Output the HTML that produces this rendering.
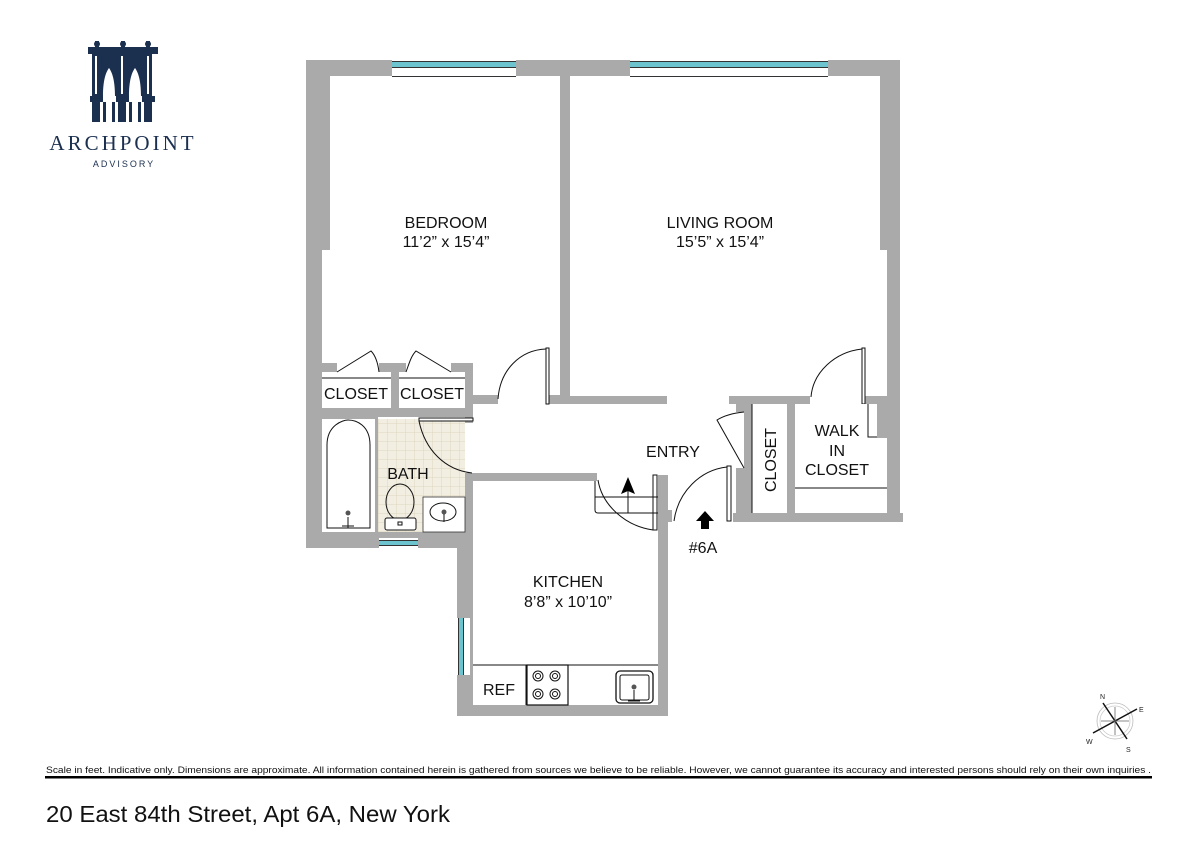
<!DOCTYPE html>
<html><head><meta charset="utf-8"><style>
html,body{margin:0;padding:0;background:#fff;}
body{width:1200px;height:849px;overflow:hidden;position:relative;font-family:"Liberation Sans",Arial,sans-serif;}
</style></head><body>
<svg width="1200" height="849" viewBox="0 0 1200 849" xmlns="http://www.w3.org/2000/svg" style="position:absolute;left:0;top:0">
<!-- Logo -->
<g fill="#1b2f4f">
  <rect x="88" y="47" width="70" height="7"/>
  <circle cx="97" cy="44" r="3"/><rect x="95" y="41" width="4" height="7"/>
  <circle cx="123" cy="44" r="3"/><rect x="121" y="41" width="4" height="7"/>
  <circle cx="148" cy="44" r="3"/><rect x="146" y="41" width="4" height="7"/>
  <rect x="92" y="54" width="8" height="68"/>
  <rect x="118" y="54" width="8" height="68"/>
  <rect x="144" y="54" width="8" height="68"/>
  <rect x="90" y="96" width="13" height="6"/>
  <rect x="116" y="96" width="13" height="6"/>
  <rect x="142" y="96" width="13" height="6"/>
  <path d="M100 54 H118 V96 H115 C115 80 112 72 109 68 C106 72 103 80 103 96 H100Z"/>
  <path d="M126 54 H144 V96 H141 C141 80 138 72 135 68 C132 72 129 80 129 96 H126Z"/>
  <rect x="103" y="102" width="3" height="20"/><rect x="112" y="102" width="3" height="20"/>
  <rect x="129" y="102" width="3" height="20"/><rect x="138" y="102" width="3" height="20"/>
</g>
<g fill="#fff"><rect x="95" y="56" width="2" height="38"/><rect x="121" y="56" width="2" height="38"/><rect x="147" y="56" width="2" height="38"/></g>
<text x="123" y="150" text-anchor="middle" font-family="Liberation Serif,serif" font-size="21" letter-spacing="3" fill="#1b2f4f">ARCHPOINT</text>
<text x="124" y="167" text-anchor="middle" font-size="9" letter-spacing="2" fill="#1b2f4f">ADVISORY</text>

<!-- Walls -->
<g fill="#aaaaaa">
  <rect x="306" y="60" width="594" height="16"/>
  <rect x="306" y="60" width="24" height="190"/>
  <rect x="306" y="60" width="16" height="488"/>
  <rect x="880" y="60" width="20" height="190"/>
  <rect x="887" y="60" width="13" height="462"/>
  <rect x="560" y="76" width="10" height="328"/>
  <rect x="570" y="396" width="97" height="8"/>
  <rect x="729" y="396" width="81" height="8"/>
  <rect x="865" y="396" width="35" height="8"/>
  <rect x="322" y="363" width="15" height="9"/>
  <rect x="379" y="363" width="27" height="9"/>
  <rect x="451" y="363" width="22" height="9"/>
  <rect x="391" y="372" width="8" height="36"/>
  <rect x="465" y="363" width="8" height="60"/>
  <rect x="322" y="408" width="151" height="9"/>
  <rect x="473" y="395" width="25" height="9"/>
  <rect x="548" y="395" width="12" height="9"/>
  <rect x="322" y="417" width="55" height="2"/>
  <rect x="375" y="417" width="3" height="115"/>
  <rect x="306" y="532" width="167" height="16"/>
  <rect x="457" y="473" width="16" height="243"/>
  <rect x="473" y="473" width="124" height="8"/>
  <rect x="658" y="475" width="10" height="241"/>
  <rect x="668" y="510" width="4" height="12"/>
  <rect x="457" y="705" width="211" height="11"/>
  <rect x="736" y="396" width="8" height="16"/>
  <rect x="736" y="468" width="8" height="54"/>
  <rect x="744" y="404" width="8" height="118"/>
  <rect x="787" y="404" width="8" height="118"/>
  <rect x="733" y="513" width="170" height="9"/>
  <rect x="877" y="404" width="10" height="34"/>
</g>
<!-- windows -->
<g>
  <rect x="392" y="60" width="124" height="16" fill="#fff"/>
  <rect x="392" y="62" width="124" height="5" fill="#6cc4cf"/>
  <rect x="392" y="61" width="124" height="1" fill="#333"/>
  <rect x="392" y="67" width="124" height="1" fill="#333"/>
  <rect x="392" y="76" width="124" height="1" fill="#333"/>
  <rect x="630" y="60" width="198" height="16" fill="#fff"/>
  <rect x="630" y="62" width="198" height="5" fill="#6cc4cf"/>
  <rect x="630" y="61" width="198" height="1" fill="#333"/>
  <rect x="630" y="67" width="198" height="1" fill="#333"/>
  <rect x="630" y="76" width="198" height="1" fill="#333"/>
  <rect x="379" y="538" width="39" height="10" fill="#fff"/>
  <rect x="379" y="541" width="39" height="4" fill="#6cc4cf"/>
  <rect x="379" y="540" width="39" height="1" fill="#333"/><rect x="379" y="545" width="39" height="1" fill="#333"/>
  <rect x="457" y="618" width="13" height="57" fill="#fff"/>
  <rect x="459" y="618" width="4" height="57" fill="#6cc4cf"/>
  <rect x="458" y="618" width="1" height="57" fill="#333"/><rect x="463" y="618" width="1" height="57" fill="#333"/>
</g>
<defs><pattern id="tile" width="9" height="9" patternUnits="userSpaceOnUse"><rect width="9" height="9" fill="#f3eee2"/><path d="M0 0H9M0 0V9" stroke="#ded5c0" stroke-width="1"/></pattern></defs>
<rect x="378" y="419" width="87" height="113" fill="url(#tile)"/>
<rect x="423" y="497" width="42" height="35" fill="#fff" stroke="#333" stroke-width="0.8"/>

<g fill="none" stroke="#111" stroke-width="1">
  <rect x="322" y="372" width="69" height="36" fill="#fff" stroke="none"/>
  <line x1="322" y1="378" x2="391" y2="378"/><line x1="399" y1="378" x2="465" y2="378"/>
  <path d="M337 372 L371 351 C376 356 378 364 379 372"/>
  <path d="M451 372 L416 351 C411 356 409 364 406 372"/>
  <path d="M327 528 V445 C327 425 343 420 348 420 C356 420 370 425 370 445 V528Z"/>
  <circle cx="348" cy="513" r="2.5" fill="#555" stroke="none"/>
  <path d="M342 526 H354 M348 517 V528"/>
  <ellipse cx="400" cy="502" rx="14" ry="18"/>
  <rect x="385" y="518" width="31" height="12" rx="2" fill="#fff"/>
  <rect x="398" y="522" width="4" height="3"/>
  <ellipse cx="443" cy="512" rx="13" ry="9"/>
  <circle cx="444" cy="512" r="2.5" fill="#555" stroke="none"/>
  <path d="M444 514 V522"/>
  <rect x="419" y="418" width="54" height="3" fill="#fff"/>
  <path d="M419 421 C425 450 445 470 472 473"/>
  <rect x="546" y="348" width="3" height="56" fill="#fff"/>
  <path d="M546 349 C520 350 500 370 498 399"/>
  <rect x="653" y="475" width="4" height="55" fill="#fff"/>
  <path d="M598 480 C602 505 625 526 653 530"/>
  <path d="M595 481 V510 C595 512 596 513 598 513 H658 M595 497 H658"/>
  <path d="M628 481 V513"/>
  <rect x="862" y="348" width="3" height="56" fill="#fff"/>
  <path d="M862 349 C835 352 813 372 811 397"/>
  <rect x="727" y="466" width="4" height="55" fill="#fff"/>
  <path d="M727 467 C700 470 678 492 674 521"/>
  <path d="M744 468 L717 420 C725 415 734 413 744 412"/>
  <line x1="752" y1="404" x2="752" y2="513"/>
  <rect x="795" y="404" width="82" height="84" fill="#fff" stroke="none"/>
  <path d="M795 488 H887 M868 404 V437 H877"/>
  <path d="M473 665 H658 M526 665 V705 M568 665 V705"/>
  <rect x="527" y="665" width="41" height="40" stroke-width="1.2"/>
  <circle cx="538" cy="676" r="5"/><circle cx="538" cy="676" r="2.5"/>
  <circle cx="555" cy="676" r="5"/><circle cx="555" cy="676" r="2.5"/>
  <circle cx="538" cy="694" r="5"/><circle cx="538" cy="694" r="2.5"/>
  <circle cx="555" cy="694" r="5"/><circle cx="555" cy="694" r="2.5"/>
  <rect x="616" y="671" width="37" height="32" rx="4" stroke-width="1.3"/>
  <rect x="620" y="675" width="29" height="25" rx="2"/>
  <circle cx="634" cy="687" r="2.5" fill="#555" stroke="none"/>
  <path d="M634 690 V701 M628 701 H640"/>
</g>
<path d="M628 477 L621 494 L628 491 L635 494Z" fill="#000"/>
<path d="M705 511 L696 521 H701 V529 H709 V521 H714Z" fill="#000"/>

<g font-size="16" fill="#111" text-anchor="middle">
  <text x="446" y="228">BEDROOM</text>
  <text x="446" y="247">11’2” x 15’4”</text>
  <text x="720" y="228">LIVING ROOM</text>
  <text x="720" y="247">15’5” x 15’4”</text>
  <text x="568" y="587">KITCHEN</text>
  <text x="568" y="607">8’8” x 10’10”</text>
  <text x="356" y="399">CLOSET</text>
  <text x="432" y="399">CLOSET</text>
  <text x="408" y="479">BATH</text>
  <text x="673" y="457">ENTRY</text>
  <text x="837" y="436">WALK</text>
  <text x="837" y="456">IN</text>
  <text x="837" y="475">CLOSET</text>
  <text x="499" y="695">REF</text>
  <text x="703" y="553">#6A</text>
  <text transform="translate(776,460) rotate(-90)">CLOSET</text>
</g>

<g transform="translate(1115,721)" stroke="#555" fill="none" stroke-width="0.8">
  <circle r="18" stroke="#bbb"/><circle r="15" stroke="#ccc"/>
  <path d="M-12 -18 L12 18 M-22 12 L22 -12" stroke="#111" stroke-width="1.5"/>
  <path d="M0 -14 L0 14 M-14 0 L14 0" stroke="#666"/>
  <text x="-15" y="-22" font-size="7" fill="#222" stroke="none">N</text>
  <text x="24" y="-9" font-size="7" fill="#222" stroke="none">E</text>
  <text x="-29" y="23" font-size="7" fill="#222" stroke="none">W</text>
  <text x="11" y="31" font-size="7" fill="#222" stroke="none">S</text>
</g>

<text x="46" y="773" font-size="9.5" fill="#111" textLength="1105" lengthAdjust="spacingAndGlyphs">Scale in feet. Indicative only. Dimensions are approximate. All information contained herein is gathered from sources we believe to be reliable. However, we cannot guarantee its accuracy and interested persons should rely on their own inquiries .</text>
<rect x="45" y="776" width="1107" height="2.5" fill="#000"/>
<text x="46" y="822" font-size="23" fill="#111" textLength="404" lengthAdjust="spacingAndGlyphs">20 East 84th Street, Apt 6A, New York</text>
</svg>
</body></html>
